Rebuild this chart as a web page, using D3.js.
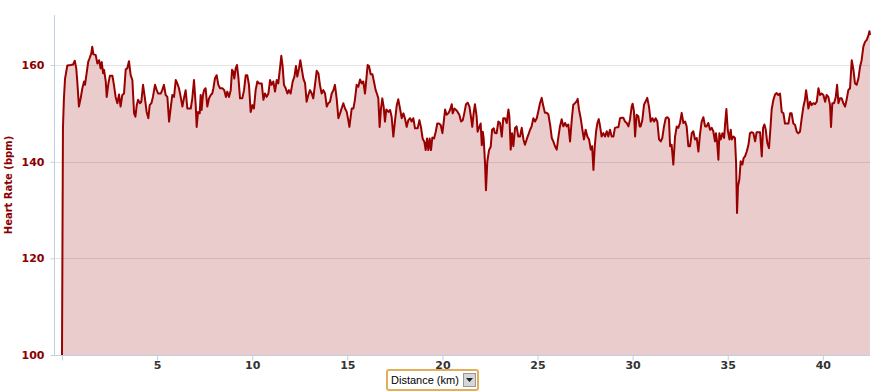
<!DOCTYPE html>
<html>
<head>
<meta charset="utf-8">
<script src="https://cdn.jsdelivr.net/npm/d3@7"></script>
<style>
  body { margin: 0; background: #fff; }
  svg { display: block; }
</style>
</head>
<body>
<svg id="chart" width="873" height="392"></svg>
<script>
// distance along the run (km) and heart rate (bpm)
const distanceKm = [
  0, 0.05, 0.10, 0.16, 0.28, 0.46, 0.58, 0.67, 0.75, 0.81, 0.89, 0.98, 1.07, 1.16, 1.21, 1.28, 1.38, 1.45, 1.54, 1.59,
  1.65, 1.77, 1.86, 1.95, 2.03, 2.09, 2.16, 2.21, 2.30, 2.35, 2.44, 2.52, 2.65, 2.73, 2.82, 2.91, 3.00, 3.08, 3.17, 3.26,
  3.35, 3.43, 3.52, 3.61, 3.70, 3.79, 3.86, 3.93, 4.00, 4.10, 4.17, 4.26, 4.35, 4.45, 4.54, 4.61, 4.70, 4.78, 4.89, 4.98,
  5.06, 5.19, 5.27, 5.36, 5.45, 5.54, 5.63, 5.71, 5.80, 5.89, 5.98, 6.06, 6.15, 6.24, 6.33, 6.41, 6.50, 6.59, 6.77, 6.85,
  6.94, 7.03, 7.08, 7.15, 7.24, 7.29, 7.34, 7.41, 7.47, 7.55, 7.64, 7.73, 7.82, 7.90, 7.96, 8.04, 8.13, 8.22, 8.31, 8.43,
  8.53, 8.62, 8.69, 8.78, 8.87, 8.94, 9.01, 9.06, 9.13, 9.20, 9.27, 9.36, 9.48, 9.57, 9.66, 9.74, 9.83, 9.92, 10.01, 10.09,
  10.18, 10.27, 10.36, 10.50, 10.59, 10.67, 10.76, 10.85, 10.94, 11.02, 11.11, 11.20, 11.29, 11.37, 11.46, 11.53, 11.60, 11.67, 11.76, 11.85,
  11.93, 12.02, 12.13, 12.22, 12.30, 12.37, 12.46, 12.53, 12.60, 12.69, 12.78, 12.86, 12.95, 13.04, 13.13, 13.21, 13.30, 13.39, 13.48, 13.56,
  13.65, 13.74, 13.83, 13.92, 14.00, 14.09, 14.18, 14.27, 14.35, 14.44, 14.53, 14.62, 14.70, 14.79, 14.88, 14.97, 15.05, 15.11, 15.23, 15.32,
  15.40, 15.49, 15.58, 15.67, 15.76, 15.84, 15.93, 16.02, 16.07, 16.14, 16.23, 16.32, 16.40, 16.49, 16.58, 16.63, 16.70, 16.77, 16.84, 16.91,
  16.98, 17.05, 17.16, 17.25, 17.33, 17.42, 17.51, 17.60, 17.68, 17.77, 17.86, 17.95, 18.03, 18.12, 18.21, 18.30, 18.38, 18.47, 18.56, 18.70,
  18.79, 18.87, 18.96, 19.05, 19.12, 19.19, 19.26, 19.33, 19.40, 19.47, 19.56, 19.65, 19.73, 19.82, 19.91, 20.00, 20.08, 20.14, 20.22, 20.31,
  20.40, 20.49, 20.54, 20.63, 20.72, 20.80, 20.89, 20.98, 21.07, 21.15, 21.24, 21.33, 21.42, 21.50, 21.57, 21.64, 21.71, 21.80, 21.85, 21.94,
  22.01, 22.07, 22.12, 22.17, 22.24, 22.29, 22.36, 22.45, 22.54, 22.61, 22.70, 22.75, 22.85, 22.94, 23.03, 23.12, 23.20, 23.29, 23.38, 23.47,
  23.52, 23.59, 23.66, 23.73, 23.82, 23.90, 23.99, 24.08, 24.17, 24.26, 24.34, 24.43, 24.52, 24.61, 24.69, 24.78, 24.87, 24.96, 25.04, 25.13,
  25.22, 25.31, 25.39, 25.48, 25.57, 25.66, 25.75, 25.83, 25.92, 26.01, 26.10, 26.18, 26.27, 26.36, 26.45, 26.53, 26.62, 26.71, 26.80, 26.88,
  26.97, 27.06, 27.11, 27.18, 27.27, 27.36, 27.44, 27.53, 27.62, 27.71, 27.80, 27.87, 27.94, 28.01, 28.08, 28.15, 28.22, 28.29, 28.37, 28.46,
  28.55, 28.64, 28.72, 28.81, 28.90, 28.99, 29.07, 29.16, 29.25, 29.34, 29.43, 29.51, 29.60, 29.69, 29.78, 29.86, 29.95, 30.00, 30.07, 30.13,
  30.21, 30.30, 30.37, 30.42, 30.51, 30.60, 30.69, 30.77, 30.86, 30.95, 31.04, 31.13, 31.21, 31.30, 31.39, 31.48, 31.56, 31.65, 31.74, 31.83,
  31.91, 31.97, 32.05, 32.14, 32.23, 32.32, 32.40, 32.49, 32.58, 32.67, 32.76, 32.84, 32.93, 33.02, 33.11, 33.19, 33.28, 33.37, 33.46, 33.54,
  33.63, 33.72, 33.81, 33.89, 33.98, 34.07, 34.16, 34.24, 34.33, 34.38, 34.44, 34.51, 34.56, 34.63, 34.72, 34.81, 34.86, 34.93, 35.00, 35.09,
  35.16, 35.21, 35.30, 35.38, 35.44, 35.49, 35.54, 35.61, 35.68, 35.77, 35.84, 35.91, 36.00, 36.09, 36.17, 36.26, 36.35, 36.44, 36.52, 36.61,
  36.70, 36.79, 36.86, 36.93, 37.00, 37.08, 37.17, 37.24, 37.31, 37.40, 37.49, 37.57, 37.66, 37.75, 37.84, 37.93, 38.01, 38.10, 38.19, 38.28,
  38.36, 38.45, 38.54, 38.63, 38.71, 38.80, 38.89, 38.98, 39.06, 39.12, 39.19, 39.24, 39.33, 39.41, 39.50, 39.59, 39.68, 39.77, 39.85, 39.94,
  40.03, 40.12, 40.20, 40.29, 40.38, 40.43, 40.50, 40.59, 40.68, 40.75, 40.82, 40.90, 40.99, 41.08, 41.17, 41.25, 41.34, 41.43, 41.52, 41.61,
  41.69, 41.78, 41.87, 41.96, 42.04, 42.13, 42.22, 42.31, 42.40, 42.45, 42.48
];
const heartRate = [
  100, 147, 153, 157.2, 159.9, 160.0, 160.1, 160.9, 159.3, 156.2, 151.4, 153.1, 155.2, 156.6, 155.9, 157.9, 160.7, 161.4, 162.4, 163.8,
  162.2, 162.1, 160.3, 161.0, 159.3, 160.6, 158.3, 159.0, 156.6, 153.4, 156.2, 157.8, 157.8, 155.9, 153.4, 152.1, 153.9, 151.4, 153.8, 154.1,
  159.1, 159.3, 160.8, 157.9, 156.9, 150.0, 149.3, 151.7, 152.8, 152.1, 152.4, 155.9, 153.4, 150.3, 149.0, 151.7, 152.1, 153.4, 155.9, 154.8,
  154.1, 154.1, 154.8, 155.9, 153.8, 153.4, 148.3, 151.0, 153.8, 153.4, 156.9, 156.2, 155.2, 153.4, 151.4, 153.1, 154.8, 151.0, 151.0, 153.1,
  156.9, 151.7, 147.2, 150.3, 150.0, 153.8, 150.7, 153.8, 154.8, 155.2, 151.4, 153.1, 153.8, 154.1, 155.2, 157.2, 157.9, 155.9, 155.2, 155.2,
  154.8, 153.4, 154.5, 153.4, 154.8, 159.0, 158.6, 157.2, 159.3, 160.0, 157.6, 153.1, 153.1, 154.8, 157.9, 157.9, 155.9, 150.3, 151.7, 151.0,
  154.8, 156.6, 156.2, 156.2, 152.8, 154.1, 153.4, 154.1, 156.9, 155.9, 156.6, 154.5, 156.9, 156.2, 159.3, 161.9, 159.7, 155.9, 155.2, 154.1,
  154.8, 154.1, 156.6, 157.6, 159.8, 157.6, 159.3, 161.0, 159.3, 157.2, 156.2, 152.4, 153.8, 154.8, 154.1, 153.1, 155.9, 158.8, 158.3, 155.9,
  154.1, 154.8, 154.1, 151.4, 152.1, 152.4, 154.1, 154.8, 155.9, 153.1, 149.0, 150.0, 151.0, 152.1, 151.0, 150.3, 148.6, 147.2, 151.0, 151.0,
  152.8, 155.9, 155.5, 157.0, 156.2, 156.6, 154.1, 157.9, 160.0, 159.8, 158.1, 158.1, 156.6, 154.8, 153.8, 153.1, 147.2, 151.0, 153.1, 151.4,
  148.3, 150.8, 150.3, 150.7, 149.3, 145.2, 148.6, 151.7, 152.9, 151.0, 149.0, 150.0, 149.0, 147.2, 148.6, 149.0, 148.3, 149.0, 146.9, 146.9,
  148.6, 147.2, 144.8, 144.1, 142.4, 144.8, 142.4, 144.8, 142.4, 145.0, 144.8, 146.2, 147.9, 147.9, 147.6, 145.9, 148.6, 150.8, 149.7, 150.0,
  150.7, 151.9, 150.0, 151.0, 150.7, 150.3, 149.7, 148.3, 148.6, 150.0, 151.9, 152.2, 151.4, 149.3, 147.2, 150.0, 151.9, 149.3, 146.2, 147.2,
  147.9, 143.4, 146.2, 144.8, 139.7, 134.1, 140.0, 142.4, 143.1, 146.6, 146.9, 146.0, 145.9, 148.3, 148.0, 145.2, 149.0, 149.0, 148.0, 150.8,
  149.4, 142.5, 145.9, 143.2, 147.0, 147.3, 145.2, 145.2, 147.0, 144.6, 143.5, 144.6, 145.6, 146.6, 147.3, 149.0, 148.3, 149.0, 150.4, 152.1,
  153.2, 151.4, 150.1, 150.1, 149.8, 147.7, 144.9, 144.2, 143.2, 142.5, 145.2, 147.3, 148.8, 147.3, 148.0, 147.3, 147.7, 144.2, 148.7, 151.8,
  152.1, 152.5, 153.0, 150.8, 149.0, 146.6, 144.6, 146.6, 145.2, 144.6, 142.5, 143.2, 138.3, 143.2, 146.3, 148.0, 148.8, 147.3, 145.2, 145.9,
  145.2, 146.3, 145.2, 146.6, 145.2, 145.2, 147.0, 147.1, 147.1, 149.0, 149.1, 149.1, 148.3, 148.0, 147.3, 148.7, 151.4, 152.0, 150.4, 145.2,
  149.7, 149.4, 147.3, 147.3, 148.6, 151.8, 152.5, 153.2, 151.4, 148.3, 149.0, 148.3, 149.0, 148.3, 144.6, 144.2, 144.9, 147.3, 149.0, 149.2,
  148.8, 143.2, 143.5, 139.4, 145.2, 147.3, 147.0, 148.0, 150.1, 148.0, 148.3, 147.3, 143.2, 143.2, 145.9, 146.3, 144.6, 144.9, 142.1, 145.6,
  148.3, 149.2, 147.3, 147.3, 148.0, 146.6, 147.0, 146.3, 144.2, 145.9, 144.2, 140.4, 145.9, 144.6, 145.9, 144.9, 147.7, 150.9, 146.6, 144.6,
  146.6, 144.6, 145.2, 144.9, 139.7, 129.4, 134.9, 136.3, 140.1, 139.4, 140.8, 141.1, 142.1, 143.5, 145.9, 146.1, 145.9, 144.2, 146.1, 146.1,
  146.1, 141.1, 147.0, 147.7, 146.6, 143.9, 142.8, 146.6, 150.8, 152.8, 153.9, 154.2, 153.8, 154.1, 150.3, 150.0, 147.9, 147.9, 147.9, 150.0,
  150.0, 147.9, 147.6, 146.2, 145.9, 146.2, 149.0, 151.4, 152.8, 154.8, 152.8, 151.0, 152.4, 151.7, 152.1, 151.9, 152.4, 155.2, 153.8, 154.1,
  153.8, 152.4, 153.8, 153.4, 151.7, 147.2, 152.1, 152.1, 153.4, 155.9, 152.1, 153.1, 153.1, 152.1, 151.4, 152.8, 154.8, 155.2, 161.0, 159.0,
  156.2, 155.9, 157.2, 159.7, 161.0, 163.8, 164.8, 165.2, 166.2, 167.0, 166.2
];

const xTicks = [0, 5, 10, 15, 20, 25, 30, 35, 40];
const yTicks = [100, 120, 140, 160];
const yTitle = "Heart Rate (bpm)";
const selectorLabel = "Distance (km)";

const svg = d3.select("#chart");
const plotLeft = 54, plotRight = 870, plotTop = 15, plotBottom = 355;

const x = d3.scaleLinear().domain([0, 42.48]).range([62, plotRight]);
const y = d3.scaleLinear().domain([100, 170.35]).range([plotBottom, plotTop]);

const data = distanceKm.map((d, i) => ({ km: d, hr: heartRate[i] }));

const axisColor = "#c0d0e0";
const font = "'DejaVu Sans', Verdana, sans-serif";

// horizontal grid
svg.append("g")
  .selectAll("line")
  .data(yTicks.filter(t => t > 100))
  .join("line")
  .attr("x1", plotLeft)
  .attr("x2", plotRight)
  .attr("y1", d => Math.round(y(d)) + 0.5)
  .attr("y2", d => Math.round(y(d)) + 0.5)
  .attr("stroke", "#e4e4e4")
  .attr("stroke-width", 1);

// the filled area under the curve then the line itself
const area = d3.area()
  .x(d => x(d.km))
  .y0(y(100))
  .y1(d => y(d.hr));

const line = d3.line()
  .x(d => x(d.km))
  .y(d => y(d.hr));

svg.append("path")
  .datum(data)
  .attr("d", area)
  .attr("fill", "rgba(153,0,0,0.2)");

svg.append("path")
  .datum(data)
  .attr("d", line)
  .attr("fill", "none")
  .attr("stroke", "#990000")
  .attr("stroke-width", 2)
  .attr("stroke-linejoin", "round");

// y axis
const yAxis = svg.append("g")
  .attr("transform", `translate(${plotLeft + 0.5},0)`)
  .call(d3.axisLeft(y).tickValues(yTicks).tickSize(4).tickPadding(6));
yAxis.select(".domain").remove();
yAxis.selectAll(".tick line").attr("stroke", axisColor);
yAxis.selectAll(".tick text")
  .attr("fill", "#8b0000")
  .attr("font-family", font)
  .attr("font-weight", "bold")
  .attr("font-size", 11);

svg.append("line")
  .attr("x1", plotLeft + 0.5).attr("x2", plotLeft + 0.5)
  .attr("y1", plotTop).attr("y2", plotBottom)
  .attr("stroke", axisColor);

// x axis
const xAxis = svg.append("g")
  .attr("transform", `translate(0,${plotBottom + 0.5})`)
  .call(d3.axisBottom(x).tickValues(xTicks).tickSize(5).tickPadding(1)
    .tickFormat(d => d === 0 ? "" : d));
xAxis.select(".domain").remove();
xAxis.selectAll(".tick line").attr("stroke", axisColor);
xAxis.selectAll(".tick text")
  .attr("fill", "#333")
  .attr("font-family", font)
  .attr("font-weight", "bold")
  .attr("font-size", 11);

svg.append("line")
  .attr("x1", plotLeft).attr("x2", plotRight)
  .attr("y1", plotBottom + 0.5).attr("y2", plotBottom + 0.5)
  .attr("stroke", axisColor);

// y title
svg.append("text")
  .attr("transform", "translate(12,185) rotate(-90)")
  .attr("text-anchor", "middle")
  .attr("fill", "#8b0000")
  .attr("font-family", font)
  .attr("font-weight", "bold")
  .attr("font-size", 10)
  .text(yTitle);

// the distance selector under the axis
const sel = svg.append("g").attr("transform", "translate(386,369)");
sel.append("rect")
  .attr("x", 1).attr("y", 1).attr("width", 91).attr("height", 20)
  .attr("rx", 2)
  .attr("fill", "#fff")
  .attr("stroke", "#e2ae5a")
  .attr("stroke-width", 2);
sel.append("text")
  .attr("x", 5).attr("y", 15)
  .attr("font-family", "'Liberation Sans', Arial, sans-serif")
  .attr("font-size", 11)
  .attr("fill", "#000")
  .text(selectorLabel);
sel.append("rect")
  .attr("x", 77.5).attr("y", 4.5).attr("width", 12).attr("height", 13)
  .attr("fill", "#d6d6d6")
  .attr("stroke", "#999");
sel.append("path")
  .attr("d", "M80,9 L87,9 L83.5,13 Z")
  .attr("fill", "#222");
</script>
</body>
</html>
